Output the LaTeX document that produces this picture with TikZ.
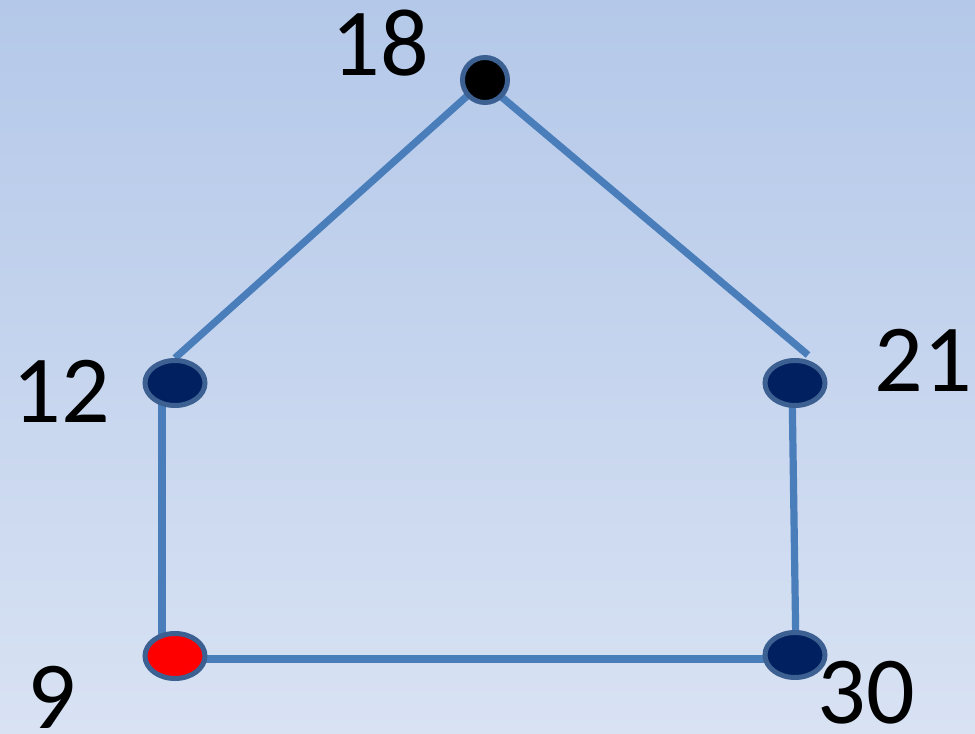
\documentclass[tikz,border=0pt]{standalone}
\usepackage{fontspec}
\setmainfont{Carlito}
\usetikzlibrary{shapes.geometric,backgrounds}
\definecolor{bgtop}{RGB}{180,200,233}
\definecolor{bgbot}{RGB}{216,226,243}
\definecolor{edgeblue}{RGB}{74,126,187}
\definecolor{rimblue}{RGB}{60,96,145}
\definecolor{navy}{RGB}{0,32,96}
\tikzset{
  vtx/.style={ellipse, draw=rimblue, line width=3.75pt, inner sep=0pt,
              minimum width=45pt, minimum height=33.75pt, fill=navy},
  topvtx/.style={circle, draw=rimblue, line width=3.75pt, inner sep=0pt,
              minimum size=33.75pt, fill=black},
  redvtx/.style={vtx, fill=red},
  edge/.style={draw=edgeblue, line width=5.4pt},
  lbl/.style={inner sep=0pt, font=\fontsize{72}{80}\selectfont, text=black}
}
\begin{document}
\begin{tikzpicture}[x=0.75pt,y=-0.75pt]
\useasboundingbox (0,0) rectangle (975,734);
% vertices
\node[topvtx] (n18) at (485,80) {};
\node[vtx] (n12) at (175,383) {};
\node[vtx] (n21) at (795,383) {};
\node[redvtx] (n9) at (175,656) {};
\node[vtx] (n30) at (795,655) {};
% labels
\node[lbl] (l18) at (380,43) {18};
\node[lbl] (l12) at (61,391) {12};
\node[lbl] (l21) at (923,360) {21};
\node[lbl] (l9) at (52,697) {9};
\node[lbl] (l30) at (866,693) {30};
\begin{scope}[on background layer]
  \shade[top color=bgtop, bottom color=bgbot] (0,0) rectangle (975,734);
  \draw[edge] (n18.center) -- (n12.north);
  \draw[edge] ([shift={(0,3)}]n18.center) -- ([shift={(13,-3)}]n21.north);
  \draw[edge] ([shift={(-13,0)}]n12.center) -- ([shift={(-13,0)}]n9.center);
  \draw[edge] ([shift={(-3,0)}]n21.center) -- ([shift={(1,0)}]n30.center);
  \draw[edge] ([shift={(0,3)}]n9.center) -- ([shift={(0,4)}]n30.center);
\end{scope}
\end{tikzpicture}
\end{document}
